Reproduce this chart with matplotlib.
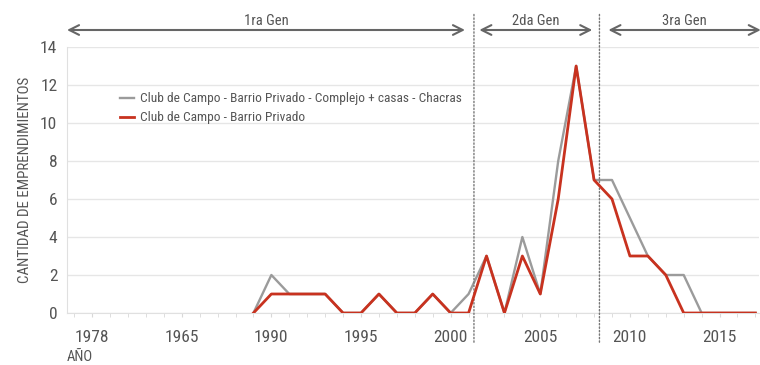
import matplotlib
matplotlib.use("Agg")
import matplotlib.pyplot as plt
from matplotlib.ticker import FixedLocator

plt.rcParams['font.family'] = ['Roboto Condensed', 'DejaVu Sans']

years = list(range(1989, 2018))
total = [0, 2, 1, 1, 1, 0, 0, 1, 0, 0, 1, 0, 1, 3, 0, 4, 1, 8, 13, 7, 7, 5, 3, 2, 2, 0, 0, 0, 0]
club = [0, 1, 1, 1, 1, 0, 0, 1, 0, 0, 1, 0, 0, 3, 0, 3, 1, 6, 13, 7, 6, 3, 3, 2, 0, 0, 0, 0, 0]
tick_pos = [1980, 1985, 1990, 1995, 2000, 2005, 2010, 2015]
tick_labels = ["1978", "1965", "1990", "1995", "2000", "2005", "2010", "2015"]
y_ticks = [0, 2, 4, 6, 8, 10, 12, 14]
label_total = "Club de Campo - Barrio Privado - Complejo + casas - Chacras"
label_club = "Club de Campo - Barrio Privado"
gens = [("1ra Gen", 1978.6, 2000.8), ("2da Gen", 2001.6, 2007.9), ("3ra Gen", 2008.8, 2017.3)]
gen_dividers = [2001.3, 2008.3]

W, H = 760, 365
fig = plt.figure(figsize=(W / 100, H / 100), dpi=100)
ax = fig.add_axes([67 / W, 1 - 313 / H, (759 - 67) / W, (313 - 47) / H])
ax.set_xlim(1978.6, 2017.2)
ax.set_ylim(0, 14)

ax.set_yticks(y_ticks)
ax.yaxis.grid(True, color='#e6e6e6', lw=1.0)
ax.set_axisbelow(True)
for s in ['top', 'right']:
    ax.spines[s].set_visible(False)
ax.spines['left'].set_color('#e0e0e0')
ax.spines['bottom'].set_color('#e0e0e0')
ax.tick_params(axis='y', length=0, labelsize=12.5, labelcolor='#555555', pad=7)
ax.set_xticks(tick_pos)
ax.set_xticklabels(tick_labels)
ax.xaxis.set_minor_locator(FixedLocator(list(range(1979, 2018))))
ax.tick_params(axis='x', which='major', length=3, color='#d8d8d8', labelsize=12.5, labelcolor='#555555', pad=9)
ax.tick_params(axis='x', which='minor', length=3, color='#d8d8d8')

ax.plot(years, total, color='#9b9b9b', lw=1.7, label=label_total, zorder=3)
ax.plot(years, club, color='#c8321f', lw=2.0, label=label_club, zorder=4)

leg = ax.legend(loc='upper left', bbox_to_anchor=(48 / (759 - 67), (313 - 87) / (313 - 47)),
                frameon=False, fontsize=9.6, handlelength=1.0, handletextpad=0.5,
                labelspacing=0.45, borderaxespad=0)
for t in leg.get_texts():
    t.set_color('#555555')

ax.set_ylabel("CANTIDAD DE EMPRENDIMIENTOS", fontsize=10.8, color='#555555', labelpad=6)
fig.text(67 / W, 1 - 357 / H, "AÑO", fontsize=10.5, color='#555555', va='center', ha='left')

for xd in gen_dividers:
    ax.annotate('', xy=(xd, (313 - 10) / (313 - 47) * 14), xytext=(xd, -(345 - 313) / (313 - 47) * 14),
                xycoords='data', textcoords='data',
                arrowprops=dict(arrowstyle='-', ls=(0, (1, 1.5)), color='#777777', lw=1.0),
                annotation_clip=False)

y_arrow = (313 - 30) / (313 - 47) * 14
for name, x0, x1 in gens:
    ax.annotate('', xy=(x0, y_arrow), xytext=(x1, y_arrow), xycoords='data', textcoords='data',
                arrowprops=dict(arrowstyle='<->,head_length=0.7,head_width=0.35', color='#666666', lw=1.5,
                                shrinkA=0, shrinkB=0),
                annotation_clip=False)
    ax.text((x0 + x1) / 2, y_arrow + 0.12, name, ha='center', va='bottom', fontsize=10.5,
            color='#555555', clip_on=False)

fig.savefig('out.png', dpi=100)
